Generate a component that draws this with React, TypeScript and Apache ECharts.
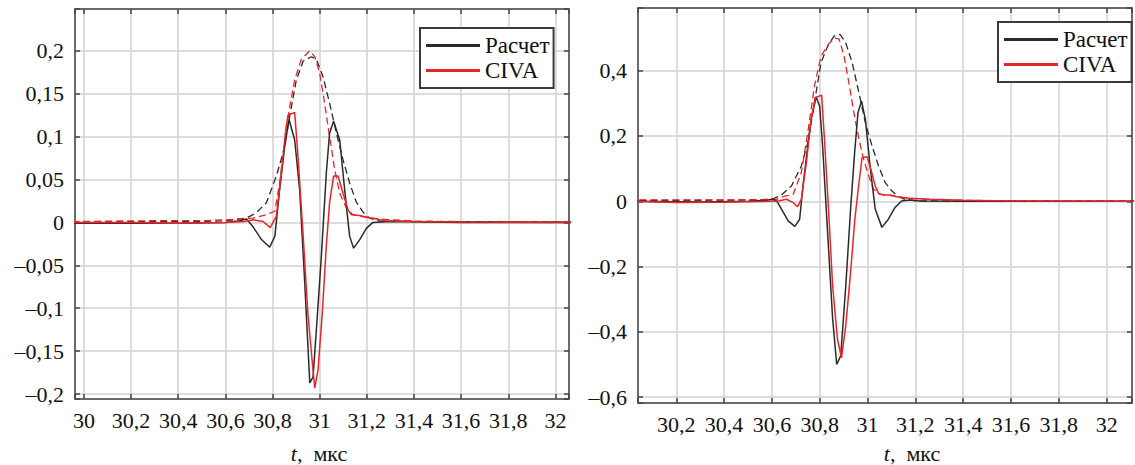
import React, { useEffect, useRef } from 'react';
import * as echarts from 'echarts';

// ---------- Left panel data ----------
const lCalcT = [29.95, 30.2, 30.4, 30.6, 30.66, 30.69, 30.717, 30.753, 30.788, 30.81, 30.83, 30.852, 30.87, 30.894, 30.915, 30.936, 30.958, 30.972, 30.986, 31.007, 31.028, 31.042, 31.059, 31.085, 31.106, 31.127, 31.144, 31.17, 31.198, 31.226, 31.3, 31.6, 32.1];
const lCalcV = [-0.001, -0.001, -0.001, 0, 0.002, 0.004, -0.005, -0.02, -0.029, -0.016, 0.038, 0.089, 0.12, 0.096, 0.038, -0.067, -0.187, -0.18, -0.125, -0.04, 0.057, 0.104, 0.118, 0.096, 0.038, -0.016, -0.03, -0.02, -0.007, 0, 0.001, 0, 0];

const lCivaT = [29.95, 30.2, 30.4, 30.6, 30.68, 30.72, 30.76, 30.79, 30.816, 30.837, 30.856, 30.866, 30.894, 30.908, 30.93, 30.95, 30.969, 30.979, 30.993, 31.011, 31.028, 31.042, 31.059, 31.078, 31.099, 31.12, 31.134, 31.17, 31.198, 31.226, 31.28, 31.4, 31.6, 32.1];
const lCivaV = [0, 0, -0.001, 0, 0.001, 0.003, 0.001, -0.006, 0.007, 0.057, 0.108, 0.125, 0.128, 0.077, -0.016, -0.106, -0.164, -0.193, -0.172, -0.106, -0.028, 0.023, 0.054, 0.054, 0.034, 0.015, 0.009, 0.008, 0.006, 0.0047, 0.002, 0.001, 0.0005, 0];

const lCalcEnvT = [29.95, 30.3, 30.5, 30.6, 30.689, 30.73, 30.774, 30.816, 30.845, 30.873, 30.901, 30.93, 30.965, 30.986, 31.014, 31.042, 31.071, 31.099, 31.127, 31.155, 31.184, 31.212, 31.254, 31.4, 32.1];
const lCalcEnvV = [0.001, 0.001, 0.001, 0.002, 0.005, 0.011, 0.023, 0.054, 0.081, 0.124, 0.166, 0.188, 0.193, 0.19, 0.17, 0.139, 0.104, 0.073, 0.046, 0.024, 0.012, 0.005, 0.0016, 0.001, 0.0005];

const lCivaEnvT = [29.95, 30.3, 30.5, 30.6, 30.717, 30.774, 30.81, 30.83, 30.852, 30.873, 30.894, 30.922, 30.958, 30.979, 31.0, 31.021, 31.042, 31.064, 31.085, 31.113, 31.141, 31.198, 31.254, 31.396, 31.6, 32.1];
const lCivaEnvV = [0.001, 0.002, 0.002, 0.003, 0.005, 0.009, 0.013, 0.046, 0.096, 0.135, 0.166, 0.19, 0.2, 0.193, 0.174, 0.139, 0.1, 0.061, 0.034, 0.017, 0.009, 0.006, 0.004, 0.0016, 0.001, 0.0005];

// ---------- Right panel data ----------
const rCalcT = [30.0, 30.3, 30.5, 30.58, 30.6, 30.62, 30.64, 30.668, 30.696, 30.716, 30.73, 30.75, 30.764, 30.785, 30.8, 30.812, 30.833, 30.854, 30.871, 30.888, 30.909, 30.93, 30.946, 30.96, 30.975, 30.991, 31.012, 31.032, 31.06, 31.087, 31.115, 31.142, 31.177, 31.218, 31.4, 32.2];
const rCalcV = [0, -0.002, 0, 0.003, 0.006, 0.001, -0.024, -0.06, -0.077, -0.055, 0.047, 0.17, 0.25, 0.32, 0.29, 0.17, -0.096, -0.36, -0.5, -0.473, -0.259, -0.014, 0.149, 0.271, 0.307, 0.25, 0.098, -0.024, -0.08, -0.055, -0.019, 0.001, 0.004, 0.001, 0, 0];

const rCivaT = [30.0, 30.2, 30.4, 30.55, 30.627, 30.661, 30.689, 30.707, 30.723, 30.744, 30.764, 30.781, 30.808, 30.819, 30.836, 30.854, 30.874, 30.891, 30.909, 30.929, 30.947, 30.961, 30.977, 30.998, 31.014, 31.032, 31.046, 31.067, 31.094, 31.122, 31.177, 31.26, 31.4, 31.6, 32.2];
const rCivaV = [0, -0.004, -0.003, -0.001, 0.001, 0.006, -0.004, -0.017, 0.006, 0.118, 0.25, 0.317, 0.325, 0.2, -0.014, -0.259, -0.422, -0.48, -0.381, -0.218, -0.055, 0.037, 0.134, 0.136, 0.098, 0.047, 0.024, 0.019, 0.019, 0.014, 0.009, 0.006, 0.003, 0.001, 0];

const rCalcEnvT = [30.0, 30.3, 30.5, 30.6, 30.64, 30.682, 30.723, 30.75, 30.778, 30.805, 30.833, 30.86, 30.885, 30.909, 30.936, 30.964, 30.991, 31.019, 31.046, 31.074, 31.101, 31.129, 31.156, 31.204, 31.4, 32.2];
const rCalcEnvV = [0.003, 0.003, 0.004, 0.006, 0.019, 0.047, 0.108, 0.179, 0.302, 0.424, 0.475, 0.506, 0.511, 0.485, 0.424, 0.332, 0.24, 0.169, 0.108, 0.057, 0.032, 0.014, 0.006, 0.001, 0.001, 0];

const rCivaEnvT = [30.0, 30.3, 30.5, 30.62, 30.654, 30.689, 30.723, 30.75, 30.778, 30.805, 30.84, 30.867, 30.881, 30.902, 30.922, 30.943, 30.964, 30.984, 31.005, 31.025, 31.053, 31.094, 31.149, 31.232, 31.4, 31.6, 32.2];
const rCivaEnvV = [0.004, 0.004, 0.004, 0.006, 0.016, 0.021, 0.088, 0.21, 0.353, 0.444, 0.485, 0.5, 0.497, 0.444, 0.363, 0.271, 0.19, 0.128, 0.077, 0.037, 0.021, 0.018, 0.011, 0.006, 0.003, 0.001, 0];

const legendNames = ['Расчет', 'CIVA'];
const axisTitle = '{i|t,}  мкс';

const FONT = 'Liberation Serif';
const BLACK = '#2a2a2a';
const RED = '#e8262a';
const AXIS = '#444';
const GRID = '#d2d2d2';

const zip = (t: number[], v: number[]) => t.map((x, i) => [x, v[i]]);

const fmt = (step: number) => (v: number) => {
  const k = v / step;
  if (Math.abs(k - Math.round(k)) > 1e-6) return '';
  const r = Math.round(k) * step;
  let s = parseFloat(r.toFixed(3)).toString().replace('.', ',');
  if (r < 0) s = '\u2013' + s.slice(1);
  return s;
};

function xAxis(grid: number, min: number, max: number, split: number, main: boolean) {
  return {
    type: 'value', gridIndex: grid, min, max, splitNumber: split,
    position: main ? 'bottom' : 'top',
    axisLine: { show: true, onZero: false, lineStyle: { color: AXIS, width: 1.5 } },
    axisTick: { show: true, inside: true, length: 5, lineStyle: { color: AXIS, width: 1.5 } },
    axisLabel: {
      show: main, formatter: fmt(0.2), margin: 10, fontFamily: FONT, fontSize: 22, color: '#111',
    },
    splitLine: { show: main, lineStyle: { color: GRID, width: 1.5 } },
  };
}

function yAxis(grid: number, min: number, max: number, split: number, step: number, main: boolean) {
  return {
    type: 'value', gridIndex: grid, min, max, splitNumber: split,
    position: main ? 'left' : 'right',
    axisLine: { show: true, onZero: false, lineStyle: { color: AXIS, width: 1.5 } },
    axisTick: { show: true, inside: true, length: 5, lineStyle: { color: AXIS, width: 1.5 } },
    axisLabel: {
      show: main, formatter: fmt(step), margin: 11, fontFamily: FONT, fontSize: 22, color: '#111',
    },
    splitLine: { show: main, lineStyle: { color: GRID, width: 1.5 } },
  };
}

function lineSeries(name: string, xi: number, yi: number, data: number[][], color: string, dashed: boolean, z: number) {
  return {
    type: 'line', name, xAxisIndex: xi, yAxisIndex: yi, data,
    symbol: 'none', showSymbol: false, smooth: false, clip: true, z,
    lineStyle: { color, width: dashed ? 1.3 : 1.5, type: dashed ? [7, 4] : 'solid' },
    itemStyle: { color },
  };
}

function legend(left: number, top: number) {
  return {
    left, top, orient: 'vertical', data: legendNames, selectedMode: false,
    icon: 'rect', itemWidth: 54, itemHeight: 3, itemGap: 0,
    padding: [5, 4, 5, 6],
    borderColor: '#3a3a3a', borderWidth: 2, backgroundColor: '#fff',
    textStyle: { fontFamily: FONT, fontSize: 23, color: '#111', lineHeight: 25 },
  };
}

export default function App() {
  const ref = useRef<HTMLDivElement>(null);
  useEffect(() => {
    document.body.style.margin = '0';
    const chart = echarts.init(ref.current!, null, { renderer: 'svg' });
    const option = {
      animation: false,
      backgroundColor: '#fff',
      textStyle: { fontFamily: FONT },
      grid: [
        { left: 75, top: 9, width: 494, height: 390, containLabel: false },
        { left: 638, top: 8, width: 500, height: 395, containLabel: false },
      ],
      xAxis: [
        xAxis(0, 29.962, 32.0577, 10, true),
        xAxis(0, 29.962, 32.0577, 10, false),
        xAxis(1, 30.04, 32.106, 10, true),
        xAxis(1, 30.04, 32.106, 10, false),
      ],
      yAxis: [
        yAxis(0, -0.2058, 0.2487, 9, 0.05, true),
        yAxis(0, -0.2058, 0.2487, 9, 0.05, false),
        yAxis(1, -0.618, 0.592, 6, 0.2, true),
        yAxis(1, -0.618, 0.592, 6, 0.2, false),
      ],
      legend: [legend(420, 28), legend(998, 22)],
      graphic: [
        {
          type: 'text', x: 319, y: 453,
          style: {
            text: axisTitle, fontSize: 22, fontFamily: FONT, fill: '#111', align: 'center', verticalAlign: 'middle',
            rich: { i: { fontStyle: 'italic', fontSize: 22, fontFamily: FONT, fill: '#111' } },
          },
        },
        {
          type: 'text', x: 912, y: 453,
          style: {
            text: axisTitle, fontSize: 22, fontFamily: FONT, fill: '#111', align: 'center', verticalAlign: 'middle',
            rich: { i: { fontStyle: 'italic', fontSize: 22, fontFamily: FONT, fill: '#111' } },
          },
        },
      ],
      series: [
        lineSeries('Расчет огибающая', 0, 0, zip(lCalcEnvT, lCalcEnvV), BLACK, true, 2),
        lineSeries('CIVA огибающая', 0, 0, zip(lCivaEnvT, lCivaEnvV), RED, true, 2),
        lineSeries('Расчет', 0, 0, zip(lCalcT, lCalcV), BLACK, false, 3),
        lineSeries('CIVA', 0, 0, zip(lCivaT, lCivaV), RED, false, 4),
        lineSeries('Расчет огибающая', 2, 2, zip(rCalcEnvT, rCalcEnvV), BLACK, true, 2),
        lineSeries('CIVA огибающая', 2, 2, zip(rCivaEnvT, rCivaEnvV), RED, true, 2),
        lineSeries('Расчет', 2, 2, zip(rCalcT, rCalcV), BLACK, false, 3),
        lineSeries('CIVA', 2, 2, zip(rCivaT, rCivaV), RED, false, 4),
      ],
    };
    chart.setOption(option as any);
    return () => chart.dispose();
  }, []);
  return <div ref={ref} style={{ width: 1135, height: 465 }} />;
}
